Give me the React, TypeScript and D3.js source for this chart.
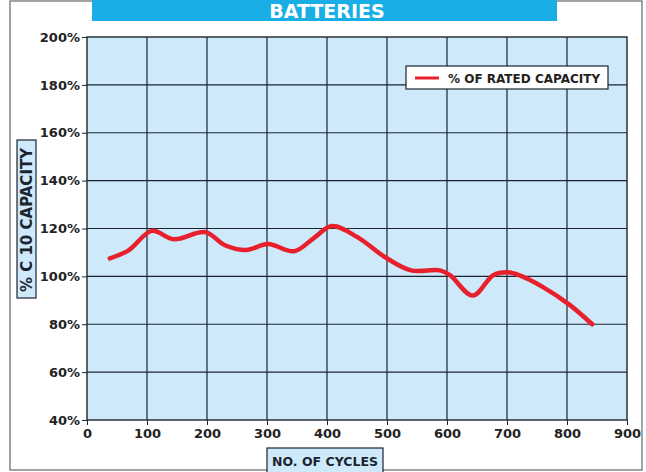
import React, { useEffect, useRef } from "react";
import * as d3 from "d3";

const cycles = [38, 70, 108, 145, 197, 230, 265, 302, 345, 378, 408, 450, 497, 540, 588, 605, 643, 677, 700, 720, 760, 805, 842];
const capacity = [107.5, 111, 119, 115.5, 118.5, 113, 111, 113.5, 110.5, 116, 121, 116.5, 108, 102.5, 102.5, 100.5, 92, 100.5, 101.7, 100.5, 95.5, 88, 80];
const xTicks = [0, 100, 200, 300, 400, 500, 600, 700, 800, 900];
const yTicks = [40, 60, 80, 100, 120, 140, 160, 180, 200];
const title = "BATTERIES";
const seriesName = "% OF RATED CAPACITY";
const xLabel = "NO. OF CYCLES";
const yLabel = "% C 10 CAPACITY";

const App = () => {
  const ref = useRef<SVGSVGElement>(null);

  useEffect(() => {
    const W = 646,
      H = 472;
    const margin = { top: 37, right: 19, bottom: 52, left: 87 };
    const width = W - margin.left - margin.right,
      height = H - margin.top - margin.bottom;
    const font = "'DejaVu Sans', sans-serif";
    const ink = "#1c2430";

    const svg = d3.select(ref.current);
    svg.selectAll("*").remove();

    svg.append("rect").attr("width", W).attr("height", H).attr("fill", "#fff");
    // outer frame
    svg
      .append("rect")
      .attr("x", 10)
      .attr("y", 1)
      .attr("width", 632)
      .attr("height", 469)
      .attr("fill", "none")
      .attr("stroke", "#666")
      .attr("stroke-width", 1.2);

    // title banner
    svg.append("rect").attr("x", 92).attr("y", 0).attr("width", 465).attr("height", 21).attr("fill", "#1aaee6");
    svg
      .append("text")
      .attr("x", 327)
      .attr("y", 18)
      .attr("text-anchor", "middle")
      .attr("fill", "#fff")
      .attr("font-family", font)
      .attr("font-weight", "bold")
      .attr("font-size", 19)
      .text(title);

    const g = svg.append("g").attr("transform", `translate(${margin.left},${margin.top})`);

    const x = d3.scaleLinear().domain([0, 900]).range([0, width]);
    const y = d3.scaleLinear().domain([40, 200]).range([height, 0]);

    g.append("rect").attr("width", width).attr("height", height).attr("fill", "#cde9fa");

    // grid
    g.append("g")
      .selectAll("line")
      .data(xTicks.slice(1, -1))
      .join("line")
      .attr("x1", (d) => x(d))
      .attr("x2", (d) => x(d))
      .attr("y1", 0)
      .attr("y2", height)
      .attr("stroke", ink)
      .attr("stroke-width", 1.2);
    g.append("g")
      .selectAll("line")
      .data(yTicks.slice(1, -1))
      .join("line")
      .attr("x1", 0)
      .attr("x2", width)
      .attr("y1", (d) => y(d))
      .attr("y2", (d) => y(d))
      .attr("stroke", ink)
      .attr("stroke-width", 1.2);
    g.append("rect")
      .attr("width", width)
      .attr("height", height)
      .attr("fill", "none")
      .attr("stroke", ink)
      .attr("stroke-width", 1.4);

    // axes
    const xAxis = g
      .append("g")
      .attr("transform", `translate(0,${height})`)
      .call(d3.axisBottom(x).tickValues(xTicks).tickSize(5).tickPadding(4).tickFormat((d) => `${d}`));
    const yAxis = g
      .append("g")
      .call(d3.axisLeft(y).tickValues(yTicks).tickSize(5).tickPadding(2).tickFormat((d) => `${d}%`));
    [xAxis, yAxis].forEach((a) => {
      a.select(".domain").remove();
      a.selectAll("line").attr("stroke", ink);
      a.selectAll("text")
        .attr("fill", "#222")
        .attr("font-family", font)
        .attr("font-weight", "bold")
        .attr("font-size", 13);
    });

    // series line
    const line = d3
      .line<number>()
      .x((d, i) => x(cycles[i]))
      .y((d) => y(d))
      .curve(d3.curveCatmullRom.alpha(0.5));
    g.append("path")
      .datum(capacity)
      .attr("fill", "none")
      .attr("stroke", "#e8202c")
      .attr("stroke-width", 4.5)
      .attr("stroke-linecap", "round")
      .attr("d", line);

    // legend
    const lg = svg.append("g").attr("transform", "translate(406,66)");
    lg.append("rect").attr("width", 202).attr("height", 23).attr("fill", "#fff").attr("stroke", ink).attr("stroke-width", 1.2);
    lg.append("line").attr("x1", 9).attr("x2", 33).attr("y1", 12).attr("y2", 12).attr("stroke", "#e8202c").attr("stroke-width", 3);
    lg.append("text")
      .attr("x", 42)
      .attr("y", 16.5)
      .attr("fill", "#222")
      .attr("font-family", font)
      .attr("font-weight", "bold")
      .attr("font-size", 12)
      .text(seriesName);

    // y label box
    svg
      .append("rect")
      .attr("x", 17)
      .attr("y", 140)
      .attr("width", 19)
      .attr("height", 158)
      .attr("fill", "#cde9fa")
      .attr("stroke", ink)
      .attr("stroke-width", 1.2);
    svg
      .append("text")
      .attr("transform", "translate(32,220) rotate(-90)")
      .attr("text-anchor", "middle")
      .attr("fill", ink)
      .attr("font-family", font)
      .attr("font-weight", "bold")
      .attr("font-size", 15)
      .text(yLabel);

    // x label box
    svg
      .append("rect")
      .attr("x", 267)
      .attr("y", 448)
      .attr("width", 116)
      .attr("height", 26)
      .attr("fill", "#cde9fa")
      .attr("stroke", ink)
      .attr("stroke-width", 1.2);
    svg
      .append("text")
      .attr("x", 325)
      .attr("y", 466)
      .attr("text-anchor", "middle")
      .attr("fill", ink)
      .attr("font-family", font)
      .attr("font-weight", "bold")
      .attr("font-size", 12.5)
      .text(xLabel);
  }, []);

  return <svg ref={ref} width={646} height={472} style={{ display: "block", position: "absolute", left: 0, top: 0 }} />;
};

export default App;
